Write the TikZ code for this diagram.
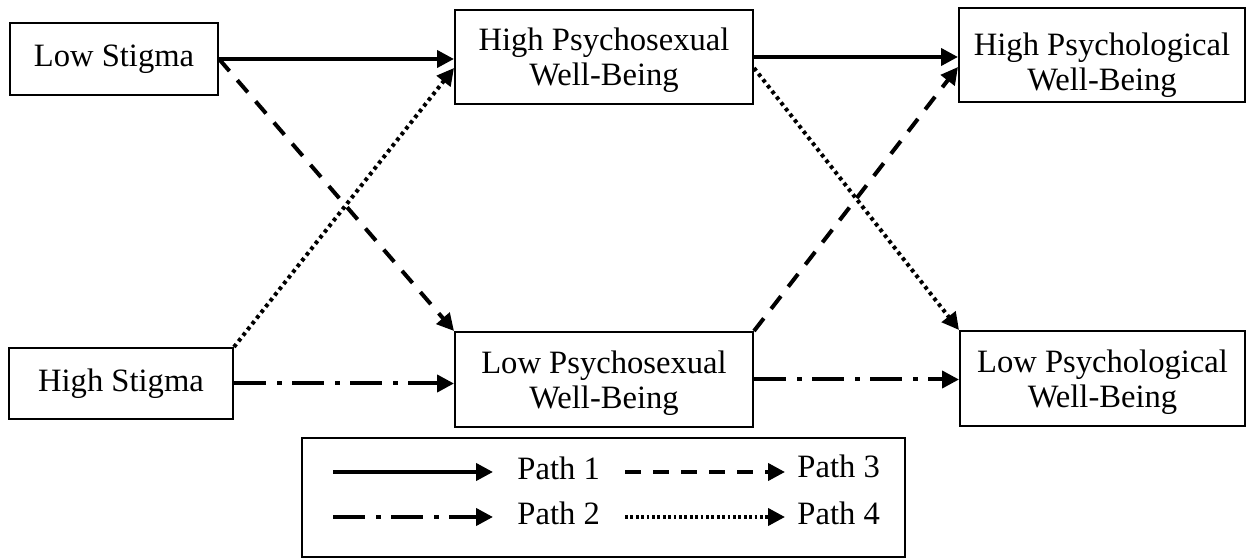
\documentclass[tikz,border=0pt]{standalone}
\usepackage{fontspec}
\setmainfont{Liberation Serif}
\usetikzlibrary{arrows.meta}
\begin{document}
\begin{tikzpicture}[x=0.5pt,y=-0.5pt,
  box/.style={draw, line width=1pt, align=center, inner sep=0pt,
    font=\fontsize{16.3}{17.5}\selectfont},
  lbl/.style={inner sep=0pt, font=\fontsize{16.3}{17.5}\selectfont},
  conn/.style={line width=2pt, -{Triangle[length=8.5pt,width=8.5pt]}},
  pathone/.style={conn},
  pathtwo/.style={conn, dash pattern=on 16pt off 5.5pt on 2.5pt off 5pt},
  paththree/.style={conn, dash pattern=on 8pt off 6pt},
  pathfour/.style={conn, dash pattern=on 1.8pt off 1.85pt}]
\path[use as bounding box] (0,0) rectangle (1247,560);
% boxes
\node[box, minimum width=104pt, minimum height=36pt] (ls) at (114,59) {Low Stigma};
\node[box, minimum width=112pt, minimum height=35.5pt] (hs) at (121,383.5) {High Stigma};
\node[box, minimum width=149pt, minimum height=47pt, text height=31.6pt] (hp) at (604,57) {High Psychosexual\\Well-Being};
\node[box, minimum width=149pt, minimum height=47.5pt, text height=32.6pt] (lp) at (604,379.5) {Low Psychosexual\\Well-Being};
\node[box, minimum width=143pt, minimum height=47pt, text height=38.6pt] (hq) at (1102,55) {High Psychological\\Well-Being};
\node[box, minimum width=142.5pt, minimum height=47.5pt, text height=32.6pt] (lq) at (1102.5,378.5) {Low Psychological\\Well-Being};
% connectors
\draw[pathone] (ls.east) -- (ls.east -| hp.west);
\draw[paththree] (ls.east) -- (lp.north west);
\draw[pathfour] (hs.north east) -- ([yshift=-5.5pt]hp.west);
\draw[pathtwo] (hs.east) -- (hs.east -| lp.west);
\draw[pathone] (hp.east) -- (hp.east -| hq.west);
\draw[pathfour] ([yshift=-5.5pt]hp.east) -- (lq.north west);
\draw[paththree] (lp.north east) -- ([yshift=-6pt]hq.west);
\draw[pathtwo] (lp.east) -- (lp.east -| lq.west);
% legend
\node[draw, line width=1pt, minimum width=301.5pt, minimum height=59.5pt, inner sep=0pt] (leg) at (603.5,497.5) {};
\coordinate (a1) at (333,472); \coordinate (b1) at (493,472);
\coordinate (a3) at (625,472); \coordinate (b3) at (785,472);
\coordinate (a2) at (333,517); \coordinate (b2) at (493,517);
\coordinate (a4) at (625,517); \coordinate (b4) at (785,517);
\draw[pathone] (a1) -- (b1);
\draw[paththree] (a3) -- (b3);
\draw[pathtwo] (a2) -- (b2);
\draw[pathfour, dash pattern=on 1.4pt off 1.3pt] (a4) -- (b4);
\node[lbl, anchor=base west] (t1) at (517,480) {Path 1};
\node[lbl, anchor=base west] (t3) at (797,478) {Path 3};
\node[lbl, anchor=base west] (t2) at (517,524) {Path 2};
\node[lbl, anchor=base west] (t4) at (797,525) {Path 4};
\end{tikzpicture}
\end{document}
